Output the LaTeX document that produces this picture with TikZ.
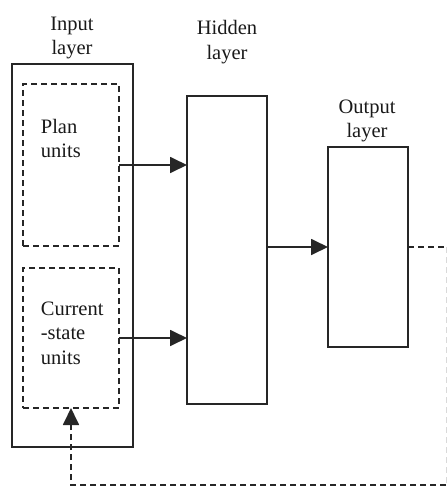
\documentclass[tikz,border=0pt]{standalone}
\usepackage{fontspec}
\setmainfont{Liberation Serif}
\usetikzlibrary{arrows.meta}
\begin{document}
\begin{tikzpicture}[x=1pt,y=-1pt,
  line width=1.8pt,
  every node/.style={font=\fontsize{20.5}{24.5}\selectfont, text=black!90},
  box/.style={draw=black!85, inner sep=0pt, outer sep=0pt, anchor=north west},
  dbox/.style={box, dash pattern=on 6pt off 4pt},
  lbl/.style={align=center, inner sep=0pt},
  txt/.style={align=left, inner sep=0pt, anchor=north west},
  arr/.style={draw=black!85, -{Triangle[length=17pt,width=16pt]}},
  darr/.style={arr, dash pattern=on 6pt off 4pt}]
\useasboundingbox (0,0) rectangle (447,487);
% boxes
\node[box, minimum width=121pt, minimum height=383pt] (inp) at (12,64) {};
\node[dbox, minimum width=96pt, minimum height=162pt] (plan) at (23,84) {};
\node[dbox, minimum width=96pt, minimum height=140pt] (cur) at (23,268) {};
\node[box, minimum width=80pt, minimum height=308pt] (hid) at (187,96) {};
\node[box, minimum width=80pt, minimum height=200pt] (out) at (328,147) {};
% labels
\node[lbl] (linp) at (72,38) {Input\\layer};
\node[lbl] (lhid) at (227,42) {Hidden\\layer};
\node[lbl] (lout) at (367,121) {Output\\layer};
\node[txt] (tplan) at (40,118) {Plan\\units};
\node[txt] (tcur) at (40,301) {Current\\-state\\units};
% connectors
\draw[arr] (plan.east) -- (plan.east -| hid.west);
\draw[arr] (cur.east) -- (cur.east -| hid.west);
\draw[arr] (hid.east |- out.west) -- (out.west);
\coordinate (c1) at (446,247);
\coordinate (c2) at (446,485);
\draw[black!85, dash pattern=on 6pt off 4pt] (out.east) -- (c1);
\draw[black!15, line width=1pt, dash pattern=on 6pt off 4pt] (c1) -- (c2);
\draw[darr] (c2) -- (cur.south |- c2) -- (cur.south);
\end{tikzpicture}
\end{document}
